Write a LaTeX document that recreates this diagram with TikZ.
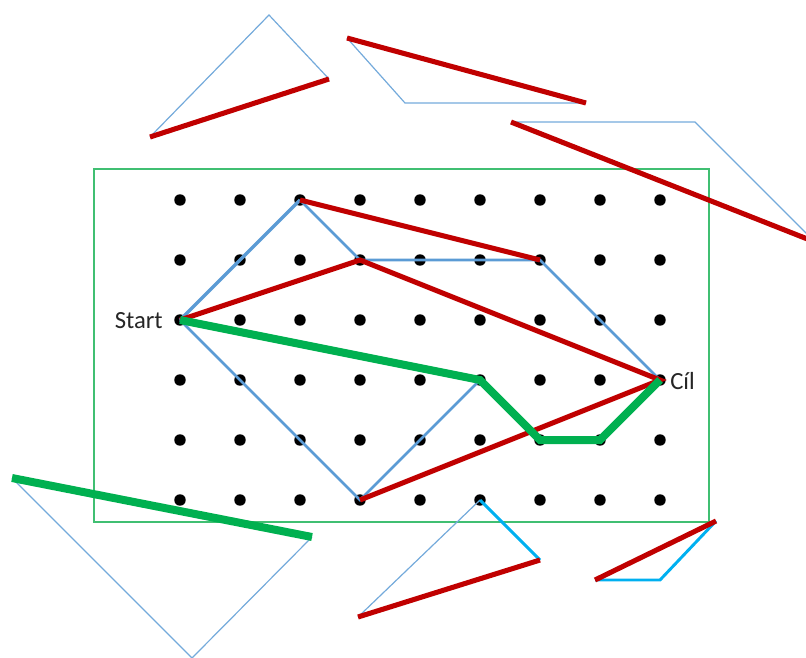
\documentclass[tikz,border=0pt]{standalone}
\usepackage{fontspec}
\setmainfont{Carlito}
\begin{document}
\begin{tikzpicture}[x=0.75pt,y=-0.75pt,
  peg/.style={circle,fill=black,inner sep=0pt,minimum size=8.6pt},
  frame/.style={draw=frameGreen,line width=1.3pt},
  hexline/.style={draw=hexBlue,line width=1.9pt},
  hexbold/.style={draw=hexBlue,line width=2.6pt},
  thinblue/.style={draw=hexBlue!85!white,line width=0.9pt},
  cyanline/.style={draw=cyanBlue,line width=2.2pt},
  redline/.style={draw=darkRed,line width=3.8pt},
  pathline/.style={draw=pathGreen,line width=6pt},
  lbl/.style={font=\fontsize{18.5}{20}\selectfont,text=black!85,inner sep=0pt}]
\definecolor{frameGreen}{HTML}{40BF72}
\definecolor{hexBlue}{HTML}{5B9BD5}
\definecolor{cyanBlue}{HTML}{00B0F0}
\definecolor{darkRed}{HTML}{C00000}
\definecolor{pathGreen}{HTML}{00B050}

\clip (0,0) rectangle (806,657);
\useasboundingbox (0,0) rectangle (806,657);

% frame round the pegboard
\node[frame,inner sep=0pt,minimum width=461.25pt,minimum height=264.75pt,anchor=north west] (board) at (93,168) {};

% pegs: column c = 1..9, row r = 1..6
\foreach \c in {1,...,9}{
  \foreach \r in {1,...,6}{
    \node[peg] (p-\c-\r) at ({120+60*\c},{140+60*\r}) {};
  }
}

% hexagon (blue)
\draw[hexbold] (p-1-3.center) -- (p-3-1.center);
\draw[hexline] (p-3-1.center) -- (p-4-2.center) -- (p-7-2.center) -- (p-9-4.center);
\draw[hexline] (p-1-3.center) -- (p-4-6.center) -- (p-6-4.center);

% red chords
\draw[redline] (p-3-1.center) -- (p-7-2.center);
\draw[redline] (p-1-3.center) -- (p-4-2.center) -- (p-9-4.center) -- (p-4-6.center);

% green route
\draw[pathline,line join=miter] (p-1-3.center) -- (p-6-4.center) -- (p-7-5.center) -- (p-8-5.center) -- (p-9-4.center);

% labels
\node[lbl,anchor=east] (start) at (163,321) {Start};
\node[lbl,anchor=west] (goal) at (670,381) {Cíl};

% loose triangles round the board
\coordinate (a1) at (150,137); \coordinate (a2) at (269,15); \coordinate (a3) at (329,79);
\draw[thinblue] (a1) -- (a2) -- (a3);
\draw[redline] (a1) -- (a3);

\coordinate (b1) at (347,38); \coordinate (b2) at (405,103); \coordinate (b3) at (586,103);
\draw[thinblue] (b1) -- (b2) -- (b3);
\draw[redline] (b1) -- (b3);

\coordinate (c1) at (511,122); \coordinate (c2) at (695,122); \coordinate (c3) at (815,242);
\draw[thinblue] (c1) -- (c2) -- (c3);
\draw[redline] (c1) -- (c3);

\coordinate (e1) at (12,478); \coordinate (e2) at (192,658); \coordinate (e3) at (312,537);
\draw[thinblue] (e1) -- (e2) -- (e3);
\draw[pathline] (e1) -- (e3);

\coordinate (f1) at (358,617); \coordinate (f3) at (540,560);
\draw[thinblue] (f1) -- (p-6-6.center);
\draw[cyanline] (p-6-6.center) -- (f3);
\draw[redline] (f1) -- (f3);

\coordinate (g1) at (595,580); \coordinate (g2) at (660,580); \coordinate (g3) at (716,521);
\draw[cyanline] (g1) -- (g2) -- (g3);
\draw[redline] (g1) -- (g3);
\end{tikzpicture}
\end{document}
